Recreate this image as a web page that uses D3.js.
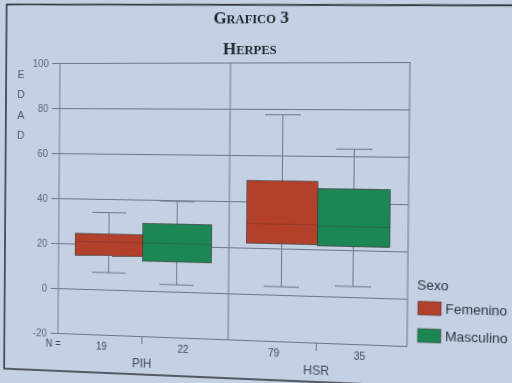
<!DOCTYPE html>
<html>
<head>
<meta charset="utf-8">
<script src="https://cdn.jsdelivr.net/npm/d3@7"></script>
<style>
  body { margin: 0; background: #c4d1e2; overflow: hidden; }
  #chart { position: absolute; left: 0; top: 0; transform-origin: 0 0; overflow: visible; }
</style>
</head>
<body>
<svg id="chart" width="512" height="383"></svg>
<script>
// data (edad por sexo)
var categories = ["PIH", "HSR"];
var sexes = ["Femenino", "Masculino"];
var counts = [[19, 22], [79, 35]];
var mins   = [[7.5, 3], [3.5, 4.5]];
var q1s    = [[15, 13], [22, 21.5]];
var medians = [[21, 21], [30.5, 30]];
var q3s    = [[24.5, 29.5], [49, 46]];
var maxs   = [[34, 39.5], [77.5, 63]];
var yTicks = [-20, 0, 20, 40, 60, 80, 100];
var sexColors = ["#b3402b", "#1d8655"];

var plot = { left: 60, right: 410, top: 63, bottom: 333 };

//////////////////////////////////////////////////////////////////////////////
// the reference is a photo: warp the flat chart onto the page quad

function solveHomography(src, dst)
{
    var A = [], B = [];
    src.forEach(function(p, i) {
        var x = p[0], y = p[1], X = dst[i][0], Y = dst[i][1];
        A.push([x, y, 1, 0, 0, 0, -x * X, -y * X]); B.push(X);
        A.push([0, 0, 0, x, y, 1, -x * Y, -y * Y]); B.push(Y);
    });
    var n = 8, i, r, c;
    for (i = 0; i < n; i++) {
        var p = i;
        for (r = i + 1; r < n; r++)
            if (Math.abs(A[r][i]) > Math.abs(A[p][i])) p = r;
        var t = A[i]; A[i] = A[p]; A[p] = t;
        t = B[i]; B[i] = B[p]; B[p] = t;
        for (r = i + 1; r < n; r++) {
            var f = A[r][i] / A[i][i];
            for (c = i; c < n; c++) A[r][c] -= f * A[i][c];
            B[r] -= f * B[i];
        }
    }
    var h = new Array(n);
    for (i = n - 1; i >= 0; i--) {
        var s = B[i];
        for (c = i + 1; c < n; c++) s -= A[i][c] * h[c];
        h[i] = s / A[i][i];
    }
    return h;
}

var H = solveHomography(
    [[plot.left, plot.top], [plot.right, plot.top], [plot.left, plot.bottom], [plot.right, plot.bottom]],
    [[60, 63], [410, 62], [58, 333], [407, 346]]);

d3.select("#chart").style("transform",
    "matrix3d(" + [H[0], H[3], 0, H[6], H[1], H[4], 0, H[7], 0, 0, 1, 0, H[2], H[5], 0, 1].join(",") + ")");

//////////////////////////////////////////////////////////////////////////////
// chart

var svg = d3.select("#chart");
var lineColor = "#6e7888";

// page frame (top edge tilted so it lands flat after the warp)
svg.append("path")
    .attr("d", "M3,4 L640,12 L640,371 L3,371 Z")
    .attr("fill", "#c4d1e2")
    .attr("stroke", "#2e343c")
    .attr("stroke-width", 1.6);

var y = d3.scaleLinear().domain([-20, 100]).range([plot.bottom, plot.top]);
var x = d3.scaleBand().domain(categories).range([plot.left, plot.right])
    .paddingInner(0.2).paddingOuter(0.1);
var xs = d3.scaleBand().domain(sexes).range([0, x.bandwidth()]);

// title
var title = svg.append("text")
    .attr("x", 255).attr("y", 25)
    .attr("text-anchor", "middle")
    .style("font-family", "'Liberation Serif', 'DejaVu Serif', serif")
    .style("font-weight", "bold")
    .style("font-size", "17px")
    .attr("fill", "#1e252e");
title.append("tspan").text("G");
title.append("tspan").style("font-size", "12.5px").text("RAFICO");
title.append("tspan").text(" 3");

var sub = svg.append("text")
    .attr("x", 254).attr("y", 55)
    .attr("text-anchor", "middle")
    .style("font-family", "'Liberation Serif', 'DejaVu Serif', serif")
    .style("font-weight", "bold")
    .style("font-size", "17px")
    .attr("fill", "#1e252e");
sub.append("tspan").text("H");
sub.append("tspan").style("font-size", "12.5px").text("ERPES");

// y axis with full-width grid
var yAxis = svg.append("g")
    .attr("transform", "translate(" + plot.right + ",0)")
    .call(d3.axisLeft(y).tickValues(yTicks)
        .tickFormat(function(d) { return String(d); })
        .tickSize(plot.right - plot.left + 8).tickPadding(4));
yAxis.select(".domain").remove();
yAxis.selectAll("line").attr("stroke", lineColor);
yAxis.selectAll("text")
    .attr("fill", "#5c6672")
    .style("font-family", "'Liberation Sans', Arial, sans-serif")
    .style("font-size", "10px");

// vertical frame lines
[plot.left, (x("PIH") + x.bandwidth() + x("HSR")) / 2, plot.right].forEach(function(vx) {
    svg.append("line")
        .attr("x1", vx).attr("x2", vx)
        .attr("y1", plot.top).attr("y2", plot.bottom)
        .attr("stroke", lineColor);
});

// EDAD
svg.append("g").selectAll("text")
    .data(["E", "D", "A", "D"])
    .join("text")
    .attr("x", 19)
    .attr("y", function(d, i) { return 78 + i * 20.5; })
    .attr("text-anchor", "middle")
    .attr("fill", "#4c5662")
    .style("font-family", "'Liberation Sans', Arial, sans-serif")
    .style("font-size", "11px")
    .text(function(d) { return d; });

// category axis
var xAxis = svg.append("g")
    .attr("transform", "translate(0," + plot.bottom + ")")
    .call(d3.axisBottom(x).tickSize(8).tickPadding(14));
xAxis.select(".domain").remove();
xAxis.selectAll("line").attr("stroke", lineColor);
xAxis.selectAll("text")
    .attr("fill", "#3e4854")
    .style("font-family", "'Liberation Sans', Arial, sans-serif")
    .style("font-size", "12px");

svg.append("text")
    .attr("x", 47).attr("y", plot.bottom + 14)
    .attr("fill", "#3e4854")
    .style("font-family", "'Liberation Sans', Arial, sans-serif")
    .style("font-size", "10px")
    .text("N =");

// boxes
var boxes = [];
categories.forEach(function(cat, ci) {
    sexes.forEach(function(sx, si) {
        boxes.push({
            cat: cat, sex: sx, si: si, n: counts[ci][si],
            min: mins[ci][si], q1: q1s[ci][si], med: medians[ci][si],
            q3: q3s[ci][si], max: maxs[ci][si]
        });
    });
});

var bw = xs.bandwidth();
var g = svg.append("g").selectAll("g")
    .data(boxes)
    .join("g")
    .attr("transform", function(d) { return "translate(" + (x(d.cat) + xs(d.sex)) + ",0)"; });

g.append("line")
    .attr("x1", bw / 2).attr("x2", bw / 2)
    .attr("y1", function(d) { return y(d.max); })
    .attr("y2", function(d) { return y(d.min); })
    .attr("stroke", lineColor);
g.selectAll(".cap")
    .data(function(d) { return [d.min, d.max]; })
    .join("line")
    .attr("x1", bw * 0.25).attr("x2", bw * 0.75)
    .attr("y1", function(v) { return y(v); })
    .attr("y2", function(v) { return y(v); })
    .attr("stroke", lineColor);
g.append("rect")
    .attr("x", 0).attr("width", bw)
    .attr("y", function(d) { return y(d.q3); })
    .attr("height", function(d) { return y(d.q1) - y(d.q3); })
    .attr("fill", function(d) { return sexColors[d.si]; })
    .attr("stroke", "#3c3a38")
    .attr("stroke-width", 0.7);
g.append("line")
    .attr("x1", 0).attr("x2", bw)
    .attr("y1", function(d) { return y(d.med); })
    .attr("y2", function(d) { return y(d.med); })
    .attr("stroke", "rgba(60,40,30,0.35)")
    .attr("stroke-width", 0.8);

// N labels
svg.append("g").selectAll("text")
    .data(boxes)
    .join("text")
    .attr("x", function(d) { return x(d.cat) + x.bandwidth() / 2 + (d.si ? 1 : -1) * x.bandwidth() * 0.3; })
    .attr("y", plot.bottom + 15)
    .attr("text-anchor", "middle")
    .attr("fill", "#3e4854")
    .style("font-family", "'Liberation Sans', Arial, sans-serif")
    .style("font-size", "10px")
    .text(function(d) { return d.n; });

// legend
var legend = svg.append("g")
    .style("font-family", "'Liberation Sans', Arial, sans-serif")
    .style("font-size", "13px");
legend.append("text")
    .attr("x", 419).attr("y", 279)
    .attr("fill", "#2e3640")
    .text("Sexo");
var item = legend.selectAll(".item")
    .data(sexes)
    .join("g")
    .attr("transform", function(d, i) { return "translate(420," + (290 + i * 26) + ")"; });
item.append("rect")
    .attr("width", 22).attr("height", 13)
    .attr("fill", function(d, i) { return sexColors[i]; })
    .attr("stroke", "#3c3a38")
    .attr("stroke-width", 0.5);
item.append("text")
    .attr("x", 26).attr("y", 11)
    .attr("fill", "#2e3640")
    .text(function(d) { return d; });
</script>
</body>
</html>
